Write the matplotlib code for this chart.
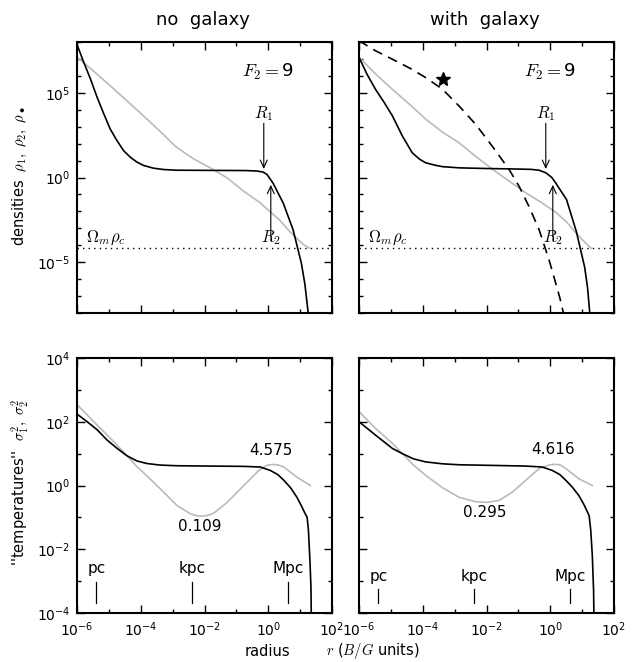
import numpy as np
import matplotlib

matplotlib.use("Agg")
import matplotlib.pyplot as plt
from matplotlib.ticker import FixedLocator, LogFormatterSciNotation, NullFormatter

plt.rcParams["font.family"] = "DejaVu Sans"
plt.rcParams["mathtext.fontset"] = "cm"

# --- density profiles, log10(r) vs log10(rho) ---
LOGR_RHO1_NOGAL = [-6.0, -5.79, -5.58, -5.37, -5.16, -4.96, -4.75, -4.54, -4.33, -4.12,
                   -3.91, -3.6, -3.28, -2.87, -1.82, -0.7, -0.35, -0.16, -0.04, 0.15,
                   0.47, 0.78, 1.04, 1.15, 1.25, 1.28]
LOGRHO1_NOGAL = [7.85, 6.81, 5.83, 4.74, 3.76, 2.87, 2.19, 1.59, 1.2, 0.91,
                 0.71, 0.55, 0.47, 0.43, 0.42, 0.41, 0.38, 0.32, 0.18, -0.33,
                 -1.51, -3.09, -5.07, -6.3, -7.95, -9.0]

LOGR_RHO2_NOGAL = [-6.0, -5.48, -4.96, -4.43, -3.91, -3.39, -2.9, -2.55, -2.34,
                   -1.82, -1.29, -0.77, -0.25, 0.05, 0.35, 0.68, 0.89, 1.1, 1.3]
LOGRHO2_NOGAL = [7.1, 6.28, 5.42, 4.52, 3.63, 2.72, 1.82, 1.36, 1.1,
                 0.57, -0.02, -0.81, -1.5, -2.01, -2.5, -3.2, -3.59, -3.95, -4.18]

LOGR_RHO1_GAL = [-6.0, -5.75, -5.48, -5.2, -4.95, -4.64, -4.33, -4.1, -3.91, -3.6, -3.38,
                 -2.86, -2.0, -1.29, -0.6, -0.35, -0.14, 0.05, 0.17, 0.51, 0.82, 1.08,
                 1.17, 1.24, 1.27]
LOGRHO1_GAL = [7.1, 6.1, 5.2, 4.4, 3.63, 2.45, 1.46, 1.08, 0.87, 0.72, 0.64,
               0.57, 0.53, 0.51, 0.48, 0.43, 0.28, 0.0, -0.32, -1.3, -3.2, -5.3,
               -6.5, -8.0, -9.0]

LOGR_RHO2_GAL = [-6.0, -5.5, -4.95, -4.4, -3.91, -3.4, -2.86, -2.34, -1.82, -1.3,
                 -0.77, -0.3, 0.17, 0.5, 0.82, 1.1, 1.29]
LOGRHO2_GAL = [7.1, 6.15, 5.2, 4.3, 3.45, 2.7, 2.05, 1.25, 0.5, -0.2,
               -0.9, -1.45, -2.05, -2.6, -3.3, -3.85, -4.18]

# stellar (galaxy) component
LOGR_STAR = [-6.0, -5.5, -4.95, -4.4, -3.91, -3.38, -2.86, -2.34, -1.82, -1.29,
             -0.98, -0.67, -0.35, -0.04, 0.17, 0.3, 0.45]
LOGRHO_STAR = [8.08, 7.5, 6.98, 6.45, 5.90, 5.21, 4.22, 3.14, 1.85, 0.47,
               -0.51, -1.70, -3.08, -4.85, -6.23, -7.1, -8.3]
STAR_MARK = (-3.36, 5.83)

LOG_OMEGA_RHOC = -4.18
LOGR_R1 = -0.14
LOGR_R2 = 0.08

# --- velocity dispersions sigma^2 ---
LOGR_S1_NOGAL = [-6.0, -5.69, -5.37, -5.06, -4.75, -4.43, -4.12, -3.81, -3.39, -2.87,
                 -1.82, -0.77, -0.25, 0.07, 0.3, 0.49, 0.7, 0.90, 1.05, 1.15,
                 1.22, 1.26, 1.31, 1.34, 1.355]
SIG1_NOGAL = [174, 102, 56.2, 26.9, 14.8, 8.51, 5.89, 4.90, 4.37, 4.17,
              4.07, 3.98, 3.80, 2.95, 2.2, 1.45, 0.85, 0.427, 0.22, 0.135,
              0.10, 0.04, 0.004, 6.3e-4, 3e-5]

LOGR_S2_NOGAL = [-6.0, -5.48, -4.96, -4.43, -4.12, -3.91, -3.38, -2.86, -2.44, -2.25,
                 -2.08, -1.9, -1.71, -1.29, -0.77, -0.30, -0.05, 0.12, 0.3, 0.49,
                 0.90, 1.32]
SIG2_NOGAL = [347, 102, 30.9, 8.71, 3.89, 2.51, 0.776, 0.234, 0.129, 0.1135,
              0.109, 0.115, 0.135, 0.295, 1.0, 2.95, 4.27, 4.575, 4.42, 3.80,
              1.82, 1.0]

LOGR_S1_GAL = [-6.0, -5.48, -4.95, -4.64, -4.3, -3.91, -3.38, -2.86, -1.82, -0.77,
               -0.25, 0.07, 0.3, 0.49, 0.7, 0.90, 1.05, 1.15, 1.22, 1.27,
               1.32, 1.36, 1.375]
SIG1_GAL = [100, 38, 14.5, 10.0, 6.9, 5.5, 4.79, 4.47, 4.27, 4.07,
            3.80, 2.95, 2.2, 1.45, 0.87, 0.479, 0.26, 0.16, 0.112, 0.04,
            0.0063, 5e-4, 3e-5]

LOGR_S2_GAL = [-6.0, -5.48, -4.95, -4.64, -4.3, -3.91, -3.38, -2.86, -2.34, -1.97,
               -1.61, -1.19, -0.77, -0.35, -0.05, 0.12, 0.3, 0.49, 0.90, 1.32]
SIG2_GAL = [209, 61.7, 20.9, 10.0, 4.47, 2.09, 0.851, 0.427, 0.309, 0.295,
            0.339, 0.617, 1.45, 3.39, 4.37, 4.616, 4.47, 3.39, 1.62, 1.0]

# physical scale markers (B/G units)
SCALE_NAMES = ["pc", "kpc", "Mpc"]
SCALE_LOGR = [-5.39, -2.39, 0.61]

GRAY = "#bababa"
W, H = 632, 662


def box(left, top, right, bottom):
    return [left / W, 1 - bottom / H, (right - left) / W, (bottom - top) / H]


def style_axes(ax, ymajor, yminor, ylim, xlabels, ylabels):
    ax.set_xscale("log")
    ax.set_yscale("log")
    ax.set_xlim(1e-6, 1e2)
    ax.set_ylim(*ylim)
    ax.xaxis.set_major_locator(FixedLocator(10.0 ** np.arange(-6, 3, 2)))
    ax.xaxis.set_minor_locator(FixedLocator(10.0 ** np.arange(-6, 3)))
    ax.yaxis.set_major_locator(FixedLocator(ymajor))
    ax.yaxis.set_minor_locator(FixedLocator(yminor))
    ax.xaxis.set_major_formatter(LogFormatterSciNotation())
    ax.yaxis.set_major_formatter(LogFormatterSciNotation())
    ax.xaxis.set_minor_formatter(NullFormatter())
    ax.yaxis.set_minor_formatter(NullFormatter())
    ax.tick_params(which="both", direction="in", top=True, right=True,
                   width=1.0, labelsize=10)
    ax.tick_params(which="major", length=5.5, pad=5)
    ax.tick_params(which="minor", length=2.8)
    ax.tick_params(labelbottom=xlabels, labelleft=ylabels)
    for s in ax.spines.values():
        s.set_linewidth(1.5)


def pw(vals):
    return 10.0 ** np.asarray(vals)


fig = plt.figure(figsize=(W / 100, H / 100), dpi=100)
ax_tl = fig.add_axes(box(77, 42, 332, 313))
ax_tr = fig.add_axes(box(359, 42, 614, 313))
ax_bl = fig.add_axes(box(77, 358, 332, 613))
ax_br = fig.add_axes(box(359, 358, 614, 613))

rho_major = [1e-5, 1e0, 1e5]
rho_minor = 10.0 ** np.arange(-8, 9)
sig_major = 10.0 ** np.arange(-4, 5, 2)
sig_minor = 10.0 ** np.arange(-4, 5)

style_axes(ax_tl, rho_major, rho_minor, (1e-8, 1e8), False, True)
style_axes(ax_tr, rho_major, rho_minor, (1e-8, 1e8), False, False)
style_axes(ax_bl, sig_major, sig_minor, (1e-4, 1e4), True, True)
style_axes(ax_br, sig_major, sig_minor, (1e-4, 1e4), True, False)

arrow_kw = dict(arrowstyle="->,head_length=0.55,head_width=0.25",
                lw=0.8, color="k", shrinkA=0, shrinkB=0)

# density panels
panels = [
    (ax_tl, LOGR_RHO1_NOGAL, LOGRHO1_NOGAL, LOGR_RHO2_NOGAL, LOGRHO2_NOGAL),
    (ax_tr, LOGR_RHO1_GAL, LOGRHO1_GAL, LOGR_RHO2_GAL, LOGRHO2_GAL),
]
for ax, r1, d1, r2, d2 in panels:
    ax.axhline(10 ** LOG_OMEGA_RHOC, color="k", lw=1.0, dashes=(1.0, 3.0))
    ax.plot(pw(r2), pw(d2), color=GRAY, lw=1.2)
    ax.plot(pw(r1), pw(d1), color="k", lw=1.2)
    ax.text(0.75, 0.89, r"$F_2 = $9", transform=ax.transAxes, fontsize=13,
            ha="center", va="center")
    ax.text(10 ** -5.08, 10 ** -3.55, r"$\Omega_m\rho_c$", fontsize=12,
            ha="center", va="center")
    ax.annotate("", xy=(10 ** LOGR_R1, 10 ** 0.5), xytext=(10 ** LOGR_R1, 10 ** 3.2),
                arrowprops=arrow_kw)
    ax.annotate("", xy=(10 ** LOGR_R2, 10 ** -0.43), xytext=(10 ** LOGR_R2, 10 ** -3.5),
                arrowprops=arrow_kw)
    ax.text(10 ** LOGR_R1, 10 ** 3.75, r"$R_1$", fontsize=12, ha="center", va="center")
    ax.text(10 ** LOGR_R2, 10 ** -3.55, r"$R_2$", fontsize=12, ha="center", va="center")

ax_tr.plot(pw(LOGR_STAR), pw(LOGRHO_STAR), color="k", lw=1.2, dashes=(6, 4))
ax_tr.plot(10 ** STAR_MARK[0], 10 ** STAR_MARK[1], marker="*", ms=10, color="k")

# temperature panels
temp_panels = [
    (ax_bl, LOGR_S1_NOGAL, SIG1_NOGAL, LOGR_S2_NOGAL, SIG2_NOGAL, -2.6, (-3.02, -3.68)),
    (ax_br, LOGR_S1_GAL, SIG1_GAL, LOGR_S2_GAL, SIG2_GAL, -2.86, (-3.26, -3.68)),
]
for ax, r1, s1, r2, s2, ylab, (ytop, ybot) in temp_panels:
    ax.plot(pw(r2), s2, color=GRAY, lw=1.2)
    ax.plot(pw(r1), s1, color="k", lw=1.2)
    # gray minimum and outer peak
    i_min = int(np.argmin(s2))
    outer = [i for i, lr in enumerate(r2) if lr > -1.0]
    i_max = max(outer, key=lambda i: s2[i])
    ax.text(pw(r2[i_min]) * 10 ** -0.07, s2[i_min] * 10 ** -0.33, f"{s2[i_min]:.3f}",
            fontsize=11, ha="center", va="center")
    ax.text(pw(r2[i_max]) * 10 ** -0.04, s2[i_max] * 10 ** 0.45, f"{s2[i_max]:.3f}",
            fontsize=11, ha="center", va="center")
    for name, lr in zip(SCALE_NAMES, SCALE_LOGR):
        ax.plot([10 ** lr, 10 ** lr], [10 ** ytop, 10 ** ybot], color="k", lw=0.9)
        ax.text(10 ** lr, 10 ** ylab, name, fontsize=11, ha="center", va="center")

fig.text(203 / W, 1 - 20 / H, "no  galaxy", fontsize=13, ha="center", va="center")
fig.text(485 / W, 1 - 20 / H, "with  galaxy", fontsize=13, ha="center", va="center")
fig.text(20 / W, 1 - 176 / H, r"densities  $\rho_1,\ \rho_2,\ \rho_\bullet$",
         rotation=90, fontsize=10.5, ha="center", va="center")
fig.text(20 / W, 1 - 482 / H, r"''temperatures''  $\sigma_1^2,\ \sigma_2^2$",
         rotation=90, fontsize=10.5, ha="center", va="center")
fig.text(267 / W, 1 - 651 / H, "radius", fontsize=10.5, ha="center", va="center")
fig.text(326 / W, 1 - 651 / H, r"$r$ ($B/G$ units)", fontsize=10.5,
         ha="left", va="center")

fig.savefig("out.png", dpi=100)
plt.close(fig)
